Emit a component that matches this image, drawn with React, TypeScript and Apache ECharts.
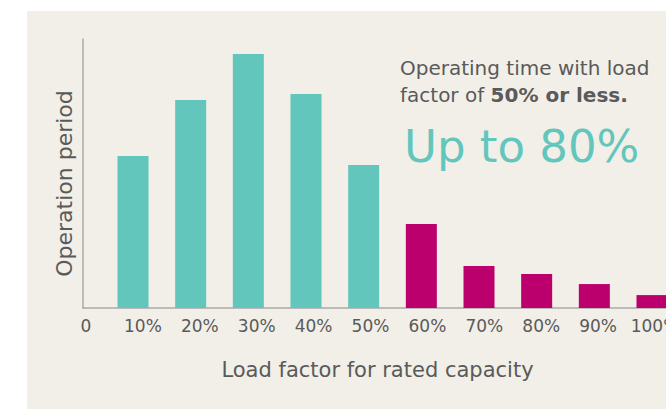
import React, { useEffect, useRef } from "react";
import * as echarts from "echarts";

const categories = ["10%", "20%", "30%", "40%", "50%", "60%", "70%", "80%", "90%", "100%"];
const tickLabels = ["0", "10%", "20%", "30%", "40%", "50%", "60%", "70%", "80%", "90%", "100%"];
const operationPeriod = [56.5, 77.3, 94.4, 79.6, 53.2, 31.2, 15.6, 12.6, 8.9, 4.8];
const lowLoadLimitIndex = 4; // bars up to 50% are teal

const TEAL = "#62c6bd";
const MAGENTA = "#bb006d";
const TEXT = "#5a5a5a";
const FONT = "'DejaVu Sans', sans-serif";

export default function App() {
  const ref = useRef<HTMLDivElement>(null);
  useEffect(() => {
    if (!ref.current) return;
    const chart = echarts.init(ref.current, undefined, { renderer: "svg" });
    chart.setOption({
      animation: false,
      backgroundColor: "#ffffff",
      graphic: [
        {
          type: "rect",
          z: -10,
          silent: true,
          shape: { x: 27, y: 11, width: 639, height: 398 },
          style: { fill: "#f1efe7" },
        },
      ],
      title: [
        {
          left: 395,
          top: 49,
          text: "{n|Operating time with load}\n{n|factor of }{b|50% or less.}",
          textStyle: {
            rich: {
              n: { fontFamily: FONT, fontSize: 20, fontWeight: "normal", color: TEXT, lineHeight: 27 },
              b: { fontFamily: FONT, fontSize: 20, fontWeight: "bold", color: TEXT, lineHeight: 27 },
            },
          },
        },
        {
          left: 399,
          top: 119,
          text: "Up to 80%",
          textStyle: { fontFamily: FONT, fontSize: 45, fontWeight: "normal", color: TEAL },
        },
      ],
      grid: [
        { left: 83, top: 39, width: 583, height: 269, outerBoundsMode: "none", containLabel: false },
        { left: 133, top: 39, width: 519, height: 269, outerBoundsMode: "none", containLabel: false },
        { left: 86, top: 39, width: 569, height: 269, outerBoundsMode: "none", containLabel: false },
      ],
      xAxis: [
        {
          gridIndex: 0,
          type: "value",
          min: 0,
          max: 1,
          axisLine: { show: true, lineStyle: { color: "#aaaaaa", width: 1.5 } },
          axisTick: { show: false },
          axisLabel: { show: false },
          splitLine: { show: false },
          name: "Load factor for rated capacity",
          nameLocation: "middle",
          nameGap: 51,
          nameTextStyle: { fontFamily: FONT, fontSize: 21, color: TEXT, padding: [0, 0, 0, 6] },
        },
        {
          gridIndex: 1,
          type: "category",
          boundaryGap: false,
          data: categories,
          axisLine: { show: false },
          axisTick: { show: false },
          axisLabel: { show: false },
        },
        {
          gridIndex: 2,
          type: "category",
          boundaryGap: false,
          data: tickLabels,
          axisLine: { show: false },
          axisTick: { show: false },
          axisLabel: { fontFamily: FONT, fontSize: 17, color: TEXT, margin: 9, interval: 0 },
        },
      ],
      yAxis: [
        {
          gridIndex: 0,
          type: "value",
          min: 0,
          max: 100,
          axisLine: { show: true, lineStyle: { color: "#aaaaaa", width: 1.5 } },
          axisTick: { show: false },
          axisLabel: { show: false },
          splitLine: { show: false },
          name: "Operation period",
          nameLocation: "middle",
          nameRotate: 90,
          nameGap: 8,
          nameTextStyle: { fontFamily: FONT, fontSize: 22, color: TEXT, padding: [0, 20, 0, 0] },
        },
        { gridIndex: 1, type: "value", min: 0, max: 100, show: false },
        { gridIndex: 2, type: "value", min: 0, max: 100, show: false },
      ],
      series: [
        {
          type: "bar",
          xAxisIndex: 1,
          yAxisIndex: 1,
          barWidth: 31,
          data: operationPeriod.map((v, i) => ({
            value: v,
            itemStyle: { color: i <= lowLoadLimitIndex ? TEAL : MAGENTA },
          })),
        },
      ],
    });
    return () => chart.dispose();
  }, []);
  return (
    <div
      ref={ref}
      style={{ position: "fixed", left: 0, top: 0, width: 666, height: 409 }}
    />
  );
}
